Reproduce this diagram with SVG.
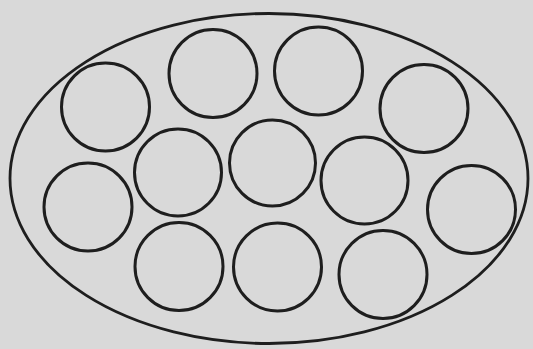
<svg xmlns="http://www.w3.org/2000/svg" width="533" height="349" viewBox="0 0 533 349">
  <style>
    .c { fill: none; stroke: #1e1e1e; stroke-width: 3; }
    .outer { fill: none; stroke: #1e1e1e; stroke-width: 2.8; }
  </style>
  <rect x="0" y="0" width="533" height="349" fill="#d9d9d9"/>
  <g id="outer">
    <ellipse class="outer" cx="269" cy="178.5" rx="259" ry="165"/>
  </g>
  <g id="circle1"><circle class="c" cx="105.5" cy="107" r="44"/></g>
  <g id="circle2"><circle class="c" cx="213" cy="73.5" r="44"/></g>
  <g id="circle3"><circle class="c" cx="318.5" cy="71" r="44"/></g>
  <g id="circle4"><circle class="c" cx="424" cy="108.5" r="44"/></g>
  <g id="circle5"><circle class="c" cx="88" cy="207" r="44"/></g>
  <g id="circle6"><circle class="c" cx="178" cy="172.5" r="43.5"/></g>
  <g id="circle7"><circle class="c" cx="272.5" cy="163" r="43"/></g>
  <g id="circle8"><circle class="c" cx="364.5" cy="180.5" r="43.5"/></g>
  <g id="circle9"><circle class="c" cx="471.5" cy="209.5" r="44"/></g>
  <g id="circle10"><circle class="c" cx="179" cy="266.5" r="44"/></g>
  <g id="circle11"><circle class="c" cx="277.5" cy="267" r="44"/></g>
  <g id="circle12"><circle class="c" cx="383" cy="274.5" r="44"/></g>
</svg>
